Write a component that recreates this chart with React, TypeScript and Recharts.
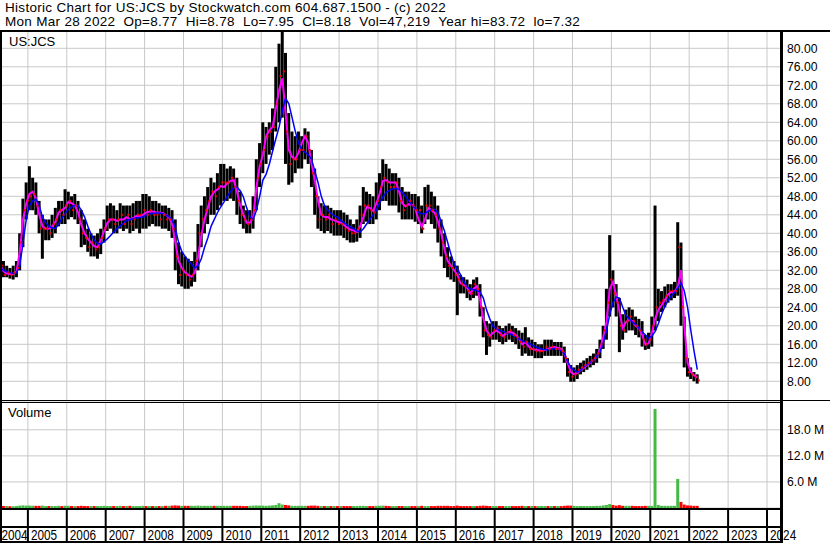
import React from "react";
import {
  ComposedChart,
  Bar,
  Line,
  Scatter,
  XAxis,
  YAxis,
  CartesianGrid,
  Cell,
} from "recharts";

// monthly bars, first month is Apr 2004, last is Mar 2022
const startYear = 2004;
const startMonth = 4;

const high = [
  36.5, 34, 33, 32.5, 33, 34, 40, 47.5, 51, // 2004
  54.5, 52, 51, 47, 44, 43, 43, 44, 45.5, 47, 47, 49.5, // 2005
  49, 48, 48.5, 47, 45, 43, 41, 40, 39.5, 40, 41, 43, // 2006
  46, 46.5, 46, 45, 46.5, 46, 46, 46, 46.5, 47, 47, 48.5, // 2007
  48.5, 48, 47, 47, 46.5, 46, 46, 45.5, 45, 43, 38, 36, // 2008
  35, 34.5, 34, 36, 42, 46, 48, 50, 52, 51, 53, 55, // 2009
  55, 54, 54.5, 54, 52, 49, 46, 45, 45, 48, 56, 59.5, // 2010
  64, 63, 64, 67, 76, 81, 83.7, 79, 66, 62, 61, 62, // 2011
  61, 62.7, 62, 58, 54, 48, 46.5, 46, 46, 45.5, 45, 45, // 2012
  45, 44.5, 44, 43, 42, 43, 46, 50, 49, 48.5, 48, 51, // 2013
  53, 56, 55, 54, 53, 53, 52, 50, 49, 49, 48.5, 48.5, // 2014
  48, 46, 50, 50.5, 49, 48, 46, 43, 40, 37, 35, 34, // 2015
  33, 31, 30.5, 30, 29, 30, 30.5, 29, 24, 21, 20.5, 21, // 2016
  21, 20, 19.5, 20, 20.5, 20, 19.5, 19, 18.5, 19.7, 17.5, 17, // 2017
  16.5, 16, 16, 17, 17, 17, 16.5, 16.5, 16.5, 15.5, 13, 11.5, // 2018
  11, 11.5, 12, 12.5, 13, 13.5, 14, 15, 17, 20, 28, 39.6, // 2019
  32, 29, 26, 22.5, 23.5, 24, 23.5, 22, 21.5, 21, 18, 18.5, // 2020
  22, 46, 28, 27.5, 28.5, 29, 29, 29.5, 42.4, 38, 22, 13, // 2021
  11, 10, 9.5, // 2022
];

const low = [
  31.5, 30.5, 30.5, 30.2, 30, 30.5, 32, 37, 43,
  45, 45, 44, 40, 34.5, 38.5, 38.5, 39, 40, 41.5, 42, 42,
  43, 43.5, 43, 42, 37, 37.5, 36, 35, 35, 34.5, 35.5, 38,
  40.5, 41, 40, 40, 41, 40.5, 41, 40, 40.5, 41, 40, 41,
  41, 41.5, 42, 41.5, 41.5, 41, 41, 40.5, 39, 32, 29, 28.5,
  28, 28, 28.5, 29.5, 32, 37, 40, 42, 44, 44, 45, 46,
  47, 47, 47.5, 47, 44, 42, 41, 40, 40, 41, 45, 50,
  53, 55, 57, 58, 62, 64, 65, 55, 50.5, 51, 53, 54,
  54, 56, 55, 50, 44, 41, 40.5, 40, 40.5, 40, 39.5, 39.5,
  39.5, 39, 38.5, 38, 38, 38.2, 39, 42, 42.5, 42, 42, 43,
  45, 47, 47, 46, 46, 46, 44.5, 43, 43, 43, 43, 42.5,
  42, 40, 42, 43, 42, 41, 38, 35, 32.5, 30.5, 30, 29.5,
  22.3, 27, 27, 26, 25.5, 26, 26.5, 22, 17.5, 13.7, 15.5, 17,
  17, 16.5, 16, 16.5, 17, 16.5, 16, 15, 13.5, 14, 13.5, 13.5,
  13, 13, 13, 13.5, 13.5, 13.5, 13.5, 13.5, 13.5, 12, 9, 7.9,
  7.9, 8.5, 9.5, 10, 10.5, 11, 11.5, 12, 13, 15, 17, 22,
  24, 22, 14.3, 17, 18.5, 19, 19, 18, 17.5, 15.5, 14.8, 15,
  15.5, 19, 21, 23, 24, 25, 25.5, 26, 26.5, 20, 11, 9,
  8.5, 8, 7.5,
];

const close = [
  33, 31, 31.5, 31, 31.5, 32.5, 38, 45, 47,
  48, 48.5, 46, 41, 41, 41, 40, 42, 43, 45, 44, 46,
  47, 45, 46, 43, 40, 39, 37, 38, 36.5, 37, 39, 41,
  43, 43, 42, 43, 44, 42, 44, 42, 43, 44, 44, 45,
  44, 45, 44, 44, 43, 44, 43, 43, 41, 35, 31, 32,
  31, 30, 31, 34, 40, 43, 45, 47, 49, 48, 50, 51,
  51, 51, 52, 50, 47, 44, 43, 42, 43, 45, 52, 55,
  58, 61, 62, 63, 68, 74, 75, 62, 55, 56, 56, 58,
  58, 61, 58, 53, 48, 43, 44, 43, 44, 42, 43, 42,
  42, 41, 40.5, 40, 40, 41, 44, 46, 46, 45, 44.5, 47,
  50, 52, 51, 50, 50, 51, 47, 45, 46, 47, 46, 45,
  45, 41, 46, 46, 45, 44, 41, 38, 35, 33, 32.5, 31,
  30, 29, 28.5, 27.5, 27, 29, 28, 24, 19, 18, 17.5, 19,
  19.5, 18, 17.5, 18.5, 19, 18, 17.5, 16.5, 15.5, 16.5, 15, 15,
  14.5, 14.5, 14.5, 15.5, 15, 15.5, 15, 15, 14.5, 13, 10, 9,
  9.5, 10.5, 11, 11.5, 12, 12.5, 13, 14, 16, 19, 25, 30,
  27, 25, 20, 19, 21, 22, 21, 20, 19, 17, 16, 17,
  20, 24, 25, 25.5, 26.5, 27.5, 27.5, 27.5, 37, 24, 13, 10,
  9.5, 9, 8.2,
];

// short moving average (magenta)
const maShort = [
  33, 31.8, 31.3, 31.2, 31.2, 31.8, 36, 43, 46.5,
  48.5, 49, 47.5, 44, 41.5, 41, 41, 41.5, 42.5, 44.5, 45, 45.5,
  46.8, 46.5, 46, 44.5, 41.8, 40, 38.8, 38, 37.2, 37, 38.5, 40.5,
  42.2, 43, 43, 42.7, 43, 43, 43.5, 43, 43.3, 43.8, 43.7, 44,
  44.5, 44.7, 44.7, 44.5, 44.5, 44.4, 44, 43.5, 42, 38, 34, 32.5,
  31.5, 31, 30.6, 31.5, 35, 39.5, 43, 45.5, 47.9, 49, 49.5, 50.2,
  50, 50.8, 51.3, 51.5, 49, 46, 44, 42.3, 42.3, 43.5, 50, 54.5,
  57, 61, 62.3, 63, 67, 71, 73.5, 66, 58, 56.5, 56, 57.5,
  59.5, 61, 59.5, 55, 51.5, 47, 44, 43.5, 43.5, 43, 42.8, 42.5,
  42.3, 41.8, 41.2, 40.8, 40.6, 40.3, 41.5, 43.5, 45.7, 45.5, 44.8, 46.5,
  48.5, 51.3, 51.5, 51, 51, 51, 49, 46.5, 45.8, 46.3, 46.2, 45.3,
  43, 41.4, 43, 45.5, 45, 44.4, 42.5, 40, 36.5, 34, 33, 32,
  31, 29.2, 28.8, 28.2, 27, 28, 28.6, 25.5, 21.5, 19, 17.8, 18.5,
  19, 18.5, 17.8, 18.3, 18.7, 18.5, 18, 17.2, 16, 16.5, 15.5, 15,
  14.8, 14.7, 14.6, 14.8, 15, 15.3, 15.4, 15.2, 15, 14, 12, 10,
  9.5, 9.8, 10.4, 10.9, 11.5, 12, 12.6, 13.3, 14.9, 17.6, 21, 28,
  29.5, 26.5, 23, 19.5, 20.8, 21.3, 21, 20, 19.5, 18, 15.9, 16.2,
  18.5, 21.5, 23.5, 24.5, 25.6, 26.8, 27.3, 27.4, 28.5, 32, 20, 12,
  10, 9.3, 8.8,
];

// long moving average (blue)
const maLong = [
  32.5, 32, 31.7, 31.5, 31.3, 31.5, 33, 38, 43,
  46, 47, 47.4, 46, 43.5, 42.3, 41.5, 41.2, 41, 42, 43.3, 44.3,
  45.2, 45.7, 46, 46, 45, 43.5, 41.5, 39.8, 38.5, 37.8, 37.7, 38.2,
  38.8, 39.5, 40.3, 41, 41.6, 42.2, 42.8, 43, 43.2, 43.3, 43.4, 43.5,
  44, 44.2, 44.3, 44.4, 44.4, 44.3, 44, 43.6, 43, 41, 38, 36,
  35, 34, 33.3, 32.5, 33, 34.5, 37, 39, 41.5, 43, 44.5, 45.7,
  46.8, 48, 49, 49.8, 50, 49.2, 47.8, 45.5, 43.6, 43, 45, 48,
  51.5, 52.8, 55, 57.8, 60.5, 63, 66.5, 69.2, 68, 65, 62, 59.5,
  58, 57.5, 57, 56, 53.5, 51, 48, 46, 45, 44.3, 43.8, 43.5,
  42.8, 42.3, 41.8, 41.4, 41, 40.5, 40.3, 41, 42, 43, 44, 45,
  46.5, 47.8, 48.8, 49.3, 49.6, 49.7, 49.5, 48.8, 48, 47, 46, 45.4,
  44.5, 44.2, 44.3, 44.8, 45.1, 45.2, 44.5, 42.5, 40.5, 38, 35.5, 33.3,
  32.3, 31, 29.6, 28.4, 28, 27.8, 27.6, 27.3, 26, 23.4, 21.5, 19.8,
  19.5, 19, 18.8, 18.5, 18.3, 18, 17.6, 17.2, 16.8, 16.5, 16.3, 15.8,
  15.5, 15.2, 15, 14.8, 14.8, 15, 15.1, 15, 14.6, 14, 12.3, 11,
  10.4, 10, 10.4, 11.1, 11.6, 12.1, 12.6, 13.3, 14.4, 16.3, 19, 22.5,
  25, 26.2, 26, 24, 22.2, 21.5, 20.8, 20.3, 19.5, 18.7, 18, 17.3,
  17.8, 18.8, 20.5, 22.5, 24.2, 25.5, 26.5, 27.2, 28.2, 29.3, 27.5, 24,
  19, 14.5, 10.5,
];

// volume in millions
const volume = [
  0.5, 0.45, 0.45, 0.4, 0.4, 0.45, 0.55, 0.6, 0.55,
  0.55, 0.5, 0.5, 0.5, 0.55, 0.45, 0.45, 0.45, 0.45, 0.5, 0.45, 0.5,
  0.5, 0.45, 0.45, 0.45, 0.5, 0.45, 0.45, 0.45, 0.45, 0.45, 0.45, 0.5,
  0.45, 0.45, 0.45, 0.45, 0.5, 0.45, 0.45, 0.5, 0.45, 0.45, 0.45, 0.5,
  0.45, 0.45, 0.45, 0.45, 0.45, 0.45, 0.5, 0.5, 0.55, 0.6, 0.55, 0.5,
  0.5, 0.5, 0.5, 0.5, 0.55, 0.5, 0.5, 0.5, 0.5, 0.5, 0.5, 0.5,
  0.5, 0.5, 0.5, 0.5, 0.5, 0.5, 0.45, 0.45, 0.5, 0.55, 0.6, 0.55,
  0.55, 0.5, 0.55, 0.6, 0.7, 1.1, 0.8, 0.7, 0.6, 0.5, 0.5, 0.5,
  0.5, 0.5, 0.5, 0.55, 0.55, 0.5, 0.45, 0.45, 0.45, 0.45, 0.45, 0.45,
  0.45, 0.45, 0.45, 0.45, 0.45, 0.45, 0.5, 0.5, 0.45, 0.45, 0.45, 0.5,
  0.5, 0.55, 0.5, 0.45, 0.45, 0.45, 0.45, 0.45, 0.45, 0.45, 0.45, 0.45,
  0.45, 0.5, 0.45, 0.45, 0.45, 0.45, 0.5, 0.5, 0.5, 0.5, 0.45, 0.45,
  0.55, 0.45, 0.45, 0.45, 0.45, 0.45, 0.45, 0.5, 0.55, 0.5, 0.45, 0.45,
  0.45, 0.45, 0.45, 0.45, 0.45, 0.45, 0.45, 0.45, 0.5, 0.45, 0.45, 0.45,
  0.45, 0.45, 0.45, 0.45, 0.45, 0.45, 0.45, 0.45, 0.45, 0.5, 0.55, 0.55,
  0.5, 0.45, 0.45, 0.45, 0.45, 0.45, 0.45, 0.5, 0.5, 0.6, 0.7, 0.9,
  0.7, 0.55, 0.65, 0.5, 0.5, 0.5, 0.5, 0.45, 0.45, 0.45, 0.5, 0.5,
  0.5, 22.8, 0.7, 0.5, 0.5, 0.5, 0.5, 0.5, 6.7, 1.4, 0.8, 0.6,
  0.55, 0.5, 0.5,
];

const yearTicks = [
  2005, 2006, 2007, 2008, 2009, 2010, 2011, 2012, 2013, 2014, 2015, 2016,
  2017, 2018, 2019, 2020, 2021, 2022, 2023, 2024,
];
const priceTicks = [8, 12, 16, 20, 24, 28, 32, 36, 40, 44, 48, 52, 56, 60, 64, 68, 72, 76, 80];
const volumeTicks = [6, 12, 18];

const FONT = "'Liberation Sans', Arial, Helvetica, sans-serif";
const X_DOMAIN: [number, number] = [2004.283, 2024.36];
const GRID = "#c8c8c8";

const data = high.map((h, i) => {
  const m = startMonth - 1 + i;
  const year = startYear + Math.floor(m / 12);
  const month = (m % 12) + 1;
  return {
    t: year + (month - 0.5) / 12,
    range: [low[i], h],
    close: close[i],
    maShort: maShort[i],
    maLong: maLong[i],
    volume: volume[i],
    up: i === 0 || close[i] >= close[i - 1],
  };
});

const CloseTick = (props: any) => {
  const { cx, cy } = props;
  if (cx == null || cy == null) return null;
  return <rect x={cx + 0.5} y={cy - 1} width={2} height={2} fill="#ff0000" />;
};

const YearTick = (props: any) => {
  const { x, y, payload } = props;
  const label = (year: number, tx: number) => (
    <text
      transform={`translate(${tx},${y + 32}) scale(0.76,1)`}
      textAnchor="start"
      fontFamily={FONT}
      fontSize={15.5}
      fill="#000"
    >
      {year}
    </text>
  );
  return (
    <g>
      <line x1={x} x2={x} y1={y} y2={y + 35} stroke="#000" strokeWidth={2} />
      {label(payload.value, x + 3)}
      {payload.value === 2005 && label(2004, x - 26.5)}
    </g>
  );
};

const hr = (top: number, width: number, height: number) => (
  <div
    style={{ position: "absolute", left: 0, top, width, height, background: "#000" }}
  />
);

const headerLine = (top: number, text: string) => (
  <div
    style={{
      position: "absolute",
      left: 5,
      top,
      fontSize: 13.5,
      letterSpacing: 0.3,
      lineHeight: "14px",
      whiteSpace: "pre",
      color: "#000",
    }}
  >
    {text}
  </div>
);

const App = () => {
  const axisTick = { fill: "#000", fontSize: 12.2, fontFamily: FONT };
  return (
    <div
      style={{
        position: "absolute",
        left: 0,
        top: 0,
        width: 830,
        height: 543,
        background: "#fff",
        overflow: "hidden",
        fontFamily: FONT,
      }}
    >
      {headerLine(1, "Historic Chart for US:JCS by Stockwatch.com 604.687.1500 - (c) 2022")}
      {headerLine(
        15,
        "Mon Mar 28 2022  Op=8.77  Hi=8.78  Lo=7.95  Cl=8.18  Vol=47,219  Year hi=83.72  lo=7.32"
      )}

      <div style={{ position: "absolute", left: 0, top: 0 }}>
        <ComposedChart
          width={830}
          height={401}
          data={data}
          margin={{ top: 31, right: 0, bottom: 0, left: 0 }}
        >
          <CartesianGrid stroke={GRID} />
          <XAxis
            type="number"
            dataKey="t"
            domain={X_DOMAIN}
            ticks={yearTicks}
            allowDataOverflow
            hide
          />
          <YAxis
            orientation="right"
            width={49}
            domain={[3.74, 83.74]}
            ticks={priceTicks}
            interval={0}
            allowDataOverflow
            axisLine={false}
            tickLine={false}
            tickSize={0}
            tickMargin={6}
            tick={axisTick}
            tickFormatter={(v: number) => v.toFixed(2)}
          />
          <Bar dataKey="range" fill="#000" barSize={3} isAnimationActive={false} />
          <Scatter dataKey="close" shape={CloseTick} isAnimationActive={false} />
          <Line
            dataKey="maShort"
            stroke="#ff00ff"
            strokeWidth={2}
            dot={false}
            isAnimationActive={false}
          />
          <Line
            dataKey="maLong"
            stroke="#0000ff"
            strokeWidth={1.5}
            dot={false}
            isAnimationActive={false}
          />
        </ComposedChart>
      </div>

      <div style={{ position: "absolute", left: 0, top: 401 }}>
        <ComposedChart
          width={830}
          height={142}
          data={data}
          margin={{ top: 1, right: 0, bottom: 0, left: 0 }}
        >
          <CartesianGrid stroke={GRID} />
          <XAxis
            type="number"
            dataKey="t"
            domain={X_DOMAIN}
            ticks={yearTicks}
            interval={0}
            allowDataOverflow
            height={35}
            axisLine={false}
            tickLine={false}
            tickSize={0}
            tickMargin={0}
            tick={<YearTick />}
          />
          <YAxis
            orientation="right"
            width={49}
            domain={[0, 24.4]}
            ticks={volumeTicks}
            interval={0}
            allowDataOverflow
            axisLine={false}
            tickLine={false}
            tickSize={0}
            tickMargin={6}
            tick={axisTick}
            tickFormatter={(v: number) => `${v.toFixed(1)} M`}
          />
          <Bar dataKey="volume" barSize={3} isAnimationActive={false}>
            {data.map((d, i) => (
              <Cell key={i} fill={d.up ? "#44b944" : "#ff0000"} />
            ))}
          </Bar>
        </ComposedChart>
      </div>

      <div style={{ position: "absolute", left: 9, top: 35, fontSize: 13, lineHeight: "14px" }}>
        US:JCS
      </div>
      <div style={{ position: "absolute", left: 8, top: 406, fontSize: 13, lineHeight: "14px" }}>
        Volume
      </div>

      {hr(30, 830, 2)}
      {hr(400, 830, 1)}
      {hr(402, 781, 1)}
      {hr(508, 781, 2)}
      {hr(526, 781, 2)}
      {hr(541, 781, 2)}
      <div style={{ position: "absolute", left: 0, top: 30, width: 2, height: 513, background: "#000" }} />
      <div style={{ position: "absolute", left: 780, top: 30, width: 3, height: 513, background: "#000" }} />
    </div>
  );
};

export default App;
